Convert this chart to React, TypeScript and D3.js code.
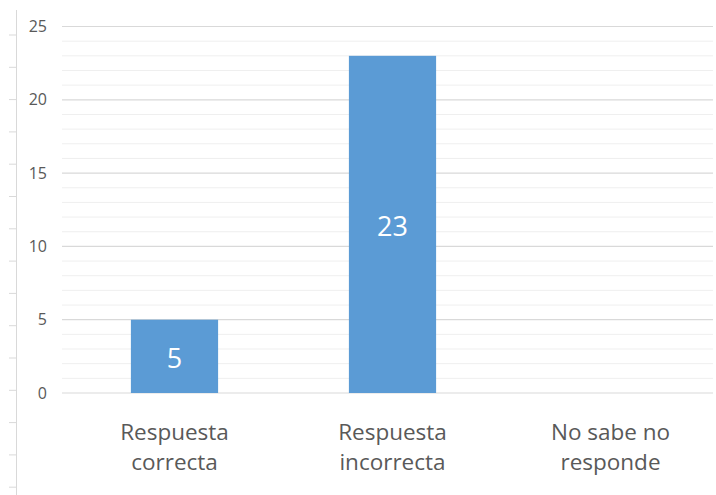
import * as d3 from 'd3'

const CATEGORIES = [['Respuesta', 'correcta'], ['Respuesta', 'incorrecta'], ['No sabe no', 'responde']]
const VALUES = [5, 23, 0]
const Y_TICKS = [0, 5, 10, 15, 20, 25]
const MINOR_TICKS = d3.range(0, 26)
const LEFT_TICKS = d3.range(0, 16)

const W = 716
const H = 495

export default function App() {
  const x = d3.scaleBand<number>()
    .domain(VALUES.map((_, i) => i))
    .range([65.5, 719.5])
    .paddingInner(0.6)
    .paddingOuter(0.3)
  const y = d3.scaleLinear().domain([0, 25]).range([393, 26.5])
  const font = '"Open Sans", "Liberation Sans", sans-serif'

  return (
    <svg width={W} height={H} style={{ display: 'block', position: 'absolute', left: 0, top: 0, background: '#fff' }}>
      {/* left decorative axis with ticks */}
      <line x1={16.5} x2={16.5} y1={10} y2={H} stroke="#d9d9d9" strokeWidth={1} />
      {LEFT_TICKS.map((i) => (
        <line key={i} x1={9} x2={16} y1={35 + i * 32.3} y2={35 + i * 32.3} stroke="#d9d9d9" strokeWidth={1} />
      ))}

      {/* minor grid */}
      {MINOR_TICKS.filter((t) => t % 5 !== 0).map((t) => (
        <line key={t} x1={62} x2={713} y1={y(t)} y2={y(t)} stroke="#efefef" strokeWidth={1} />
      ))}
      {/* major grid */}
      {Y_TICKS.map((t) => (
        <g key={t}>
          <line x1={62} x2={713} y1={y(t)} y2={y(t)} stroke="#d9d9d9" strokeWidth={1.2} />
          <text x={47} y={y(t)} dy="0.35em" textAnchor="end" fontFamily={font} fontSize={16} fill="#595959">
            {t}
          </text>
        </g>
      ))}

      {VALUES.map((v, i) => (
        <g key={i}>
          {v > 0 && (
            <rect x={x(i)} y={y(v)} width={x.bandwidth()} height={y(0) - y(v)} fill="#5b9bd5" />
          )}
          {v > 0 && (
            <text
              x={x(i)! + x.bandwidth() / 2}
              y={(y(v) + y(0)) / 2}
              dy="0.43em"
              textAnchor="middle"
              fontFamily={font}
              fontSize={27}
              fill="#ffffff"
            >
              {v}
            </text>
          )}
          {CATEGORIES[i].map((line, li) => (
            <text
              key={li}
              x={x(i)! + x.bandwidth() / 2}
              y={432.5 + li * 30}
              dy="0.35em"
              textAnchor="middle"
              fontFamily={font}
              fontSize={22.5}
              fill="#595959"
            >
              {line}
            </text>
          ))}
        </g>
      ))}
    </svg>
  )
}
